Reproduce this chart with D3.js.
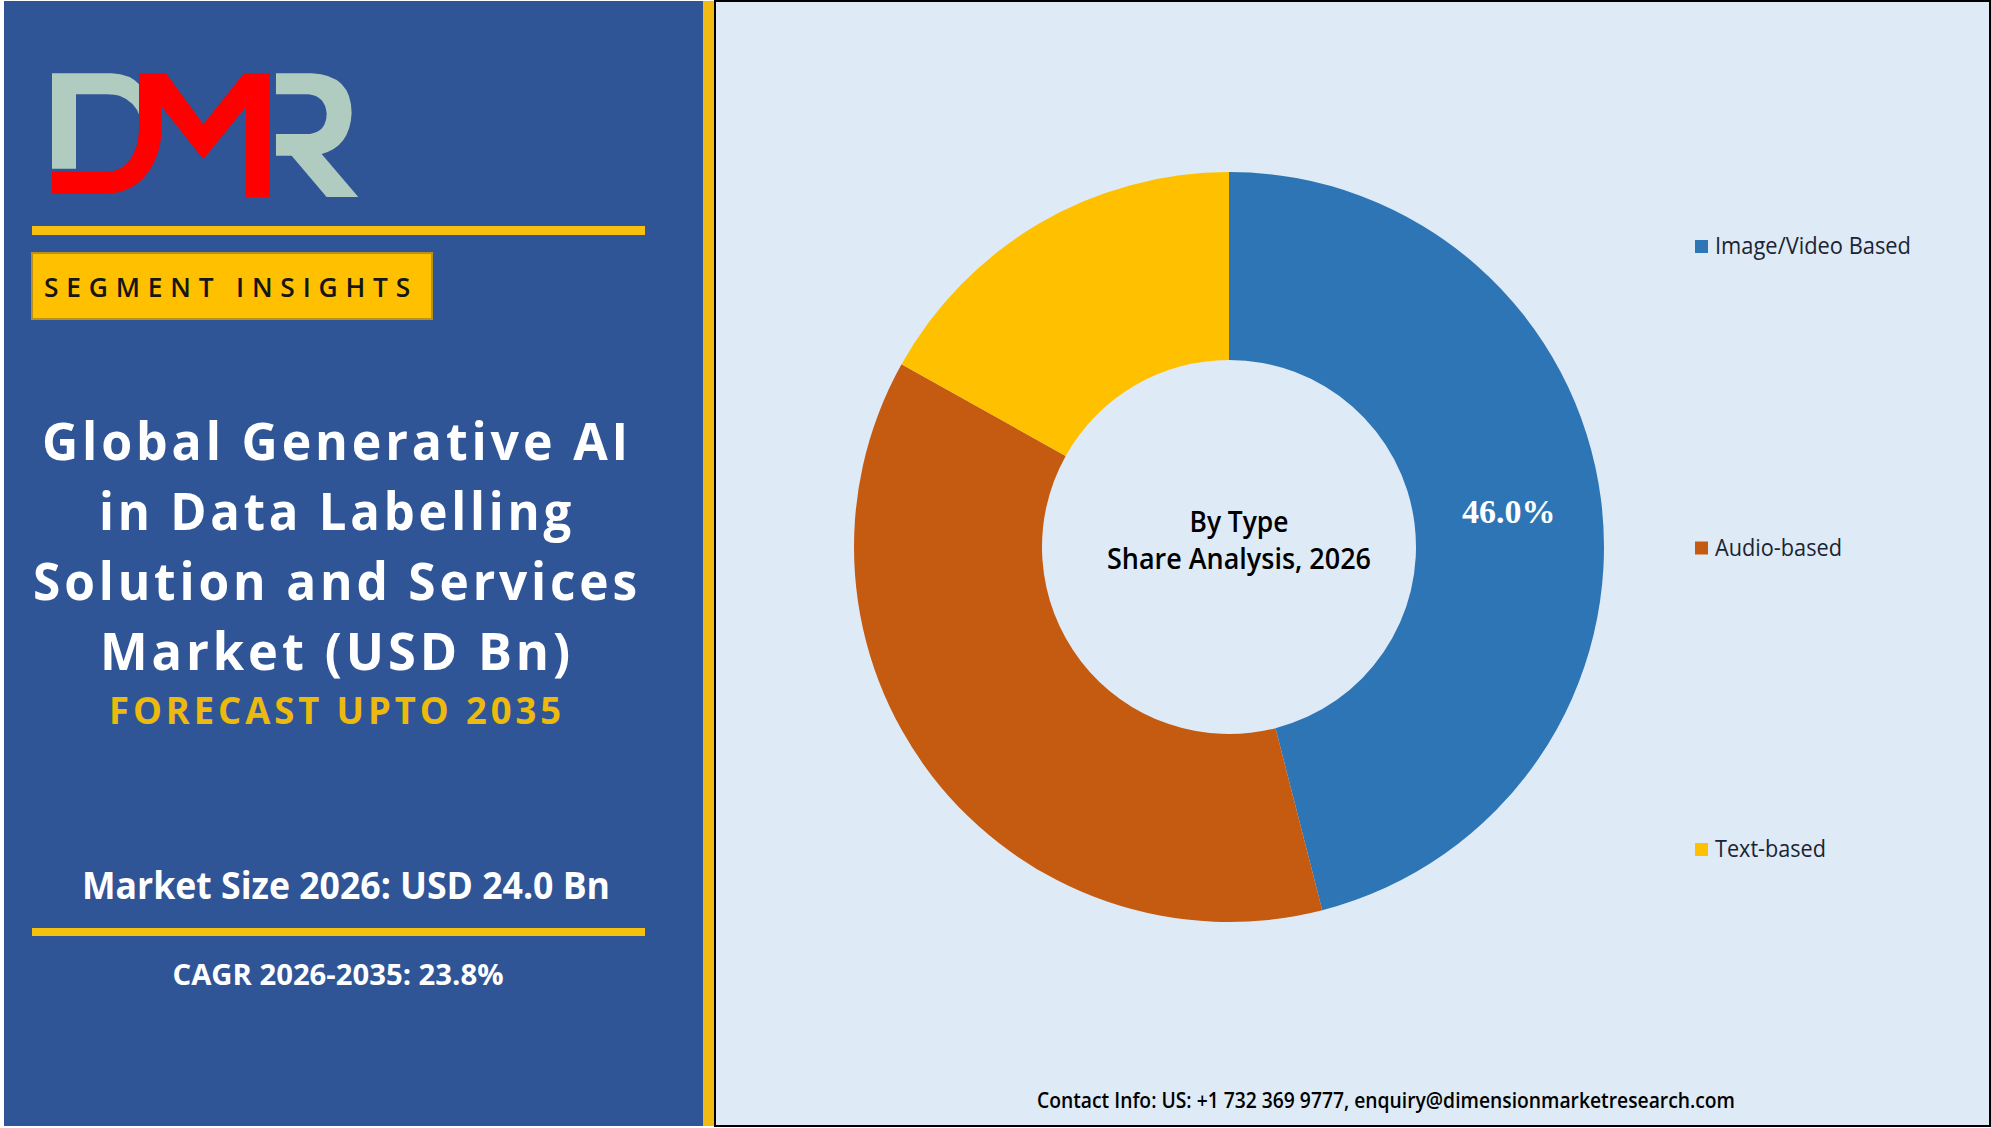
<!DOCTYPE html>
<html>
<head>
  <meta charset="utf-8">
  <script src="https://cdn.jsdelivr.net/npm/d3@7/dist/d3.min.js"></script>
  <style>
    html, body { margin: 0; padding: 0; background: #fff; }
    svg { display: block; }
  </style>
</head>
<body>
  <svg id="container" width="1991" height="1128"></svg>
<script>
  // chart data
  const categories = ['Image/Video Based', 'Audio-based', 'Text-based'];
  const shares = [46.0, 37.1, 16.9];
  const sliceColors = ['#2e75b6', '#c55a11', '#ffc000'];
  const shownLabels = ['46.0%', '', ''];
  const centerLines = ['By Type', 'Share Analysis, 2026'];

  // side panel text
  const titleLines = ['Global Generative AI', 'in Data Labelling', 'Solution and Services', 'Market (USD Bn)'];
  const forecastText = 'FORECAST UPTO 2035';
  const badgeText = 'SEGMENT INSIGHTS';
  const marketText = 'Market Size 2026: USD 24.0 Bn';
  const cagrText = 'CAGR 2026-2035: 23.8%';
  const contactText = 'Contact Info: US: +1 732 369 9777, enquiry@dimensionmarketresearch.com';

  const sans = '"Open Sans", "Noto Sans", sans-serif';
  const svg = d3.select('#container');

  // fits a line to the width it has in the picture (the original face is narrower)
  function label(parent, x, y, text, size, width, fill, weight, spacing) {
    return parent.append('text')
      .attr('x', x)
      .attr('y', y)
      .attr('text-anchor', 'middle')
      .attr('font-family', sans)
      .attr('font-size', size)
      .attr('font-weight', weight || 700)
      .attr('letter-spacing', spacing || 0)
      .attr('fill', fill)
      .attr('textLength', width)
      .attr('lengthAdjust', 'spacingAndGlyphs')
      .text(text);
  }

  // left panel
  const side = svg.append('g');
  side.append('rect').attr('x', 4).attr('y', 1).attr('width', 699).attr('height', 1125).attr('fill', '#2f5597');
  side.append('rect').attr('x', 703).attr('y', 1).attr('width', 11).attr('height', 1125).attr('fill', '#f2bb13');
  side.append('rect').attr('x', 32).attr('y', 226).attr('width', 613).attr('height', 9).attr('fill', '#f6c00f');
  side.append('rect').attr('x', 32).attr('y', 928).attr('width', 613).attr('height', 8).attr('fill', '#f6c00f');
  side.append('rect').attr('x', 32).attr('y', 253).attr('width', 400).attr('height', 66)
    .attr('fill', '#ffc000').attr('stroke', '#b8901a').attr('stroke-width', 2);

  // logo, traced in crop pixels of the picture
  const logo = side.append('g').attr('transform', 'translate(40,60) scale(0.3333)');
  logo.append('path').attr('fill', '#b0cbc0')
    .attr('d', 'M36,40 H215 Q270,42 300,75 V170 Q285,125 240,108 Q225,103 200,103 H108 V326 H36 Z');
  logo.append('path').attr('fill', '#b0cbc0')
    .attr('d', 'M708,40 H815 Q935,45 935,160 Q930,260 845,282 L955,411 H860 L755,287 H708 V222 H810 Q860,215 860,160 Q855,108 805,103 H708 Z');
  logo.append('path').attr('fill', '#ff0000')
    .attr('d', 'M36,335 H205 Q245,333 270,300 Q297,260 297,205 V40 H378 L490,193 L612,40 H690 V411 H618 V140 L490,298 L365,140 V210 Q362,295 310,355 Q265,400 195,402 H36 Z');

  label(side, 231, 297, badgeText, 27, 374, '#161616', 600, 8);

  titleLines.forEach((line, i) => {
    const widths = [590, 476, 608, 474];
    label(side, 337, 460 + i * 70, line, 52, widths[i], '#ffffff', 700, 4);
  });
  label(side, 337, 724, forecastText, 37, 456, '#ecb90f', 700, 4);
  label(side, 346, 899, marketText, 38, 528, '#ffffff');
  label(side, 338, 985, cagrText, 29, 331, '#ffffff');

  // right panel
  const panel = svg.append('g');
  panel.append('rect').attr('x', 715).attr('y', 1).attr('width', 1275).attr('height', 1125)
    .attr('fill', '#deeaf6').attr('stroke', '#000000').attr('stroke-width', 2);

  // donut
  const cx = 1229, cy = 547, outerR = 375, innerR = 187;
  const color = d3.scaleOrdinal().domain(categories).range(sliceColors);
  const pie = d3.pie().value((d, i) => shares[i]).sort(null);
  const arc = d3.arc().innerRadius(innerR).outerRadius(outerR);

  const chart = panel.append('g').attr('transform', `translate(${cx}, ${cy})`);
  const slices = chart.selectAll('g.slice').data(pie(categories)).enter().append('g').attr('class', 'slice');
  slices.append('path').attr('d', arc).attr('fill', d => color(d.data));

  slices.append('text')
    .attr('transform', d => {
      const c = arc.centroid(d);
      return `translate(${c[0] + 1}, ${c[1] + 11})`;
    })
    .attr('text-anchor', 'middle')
    .attr('font-family', '"Liberation Serif", serif')
    .attr('font-weight', 700)
    .attr('font-size', 34)
    .attr('fill', '#ffffff')
    .text((d, i) => shownLabels[i]);

  centerLines.forEach((line, i) => {
    const widths = [99, 264];
    label(panel, 1239, 532 + i * 37, line, 28, widths[i], '#000000', 600);
  });

  // legend
  const legendY = d3.scalePoint().domain(categories).range([246, 849]);
  const legend = panel.selectAll('g.legend').data(categories).enter().append('g')
    .attr('class', 'legend')
    .attr('transform', d => `translate(1695, ${legendY(d)})`);
  legend.append('rect').attr('x', 0).attr('y', -6).attr('width', 13).attr('height', 13).attr('fill', d => color(d));
  const legendWidths = [196, 127, 111];
  legend.each(function (d, i) {
    label(d3.select(this), 20 + legendWidths[i] / 2, 8, d, 23, legendWidths[i], '#1a2433', 400);
  });

  label(panel, 1386, 1108, contactText, 21, 698, '#000000', 600);
</script>
</body>
</html>
